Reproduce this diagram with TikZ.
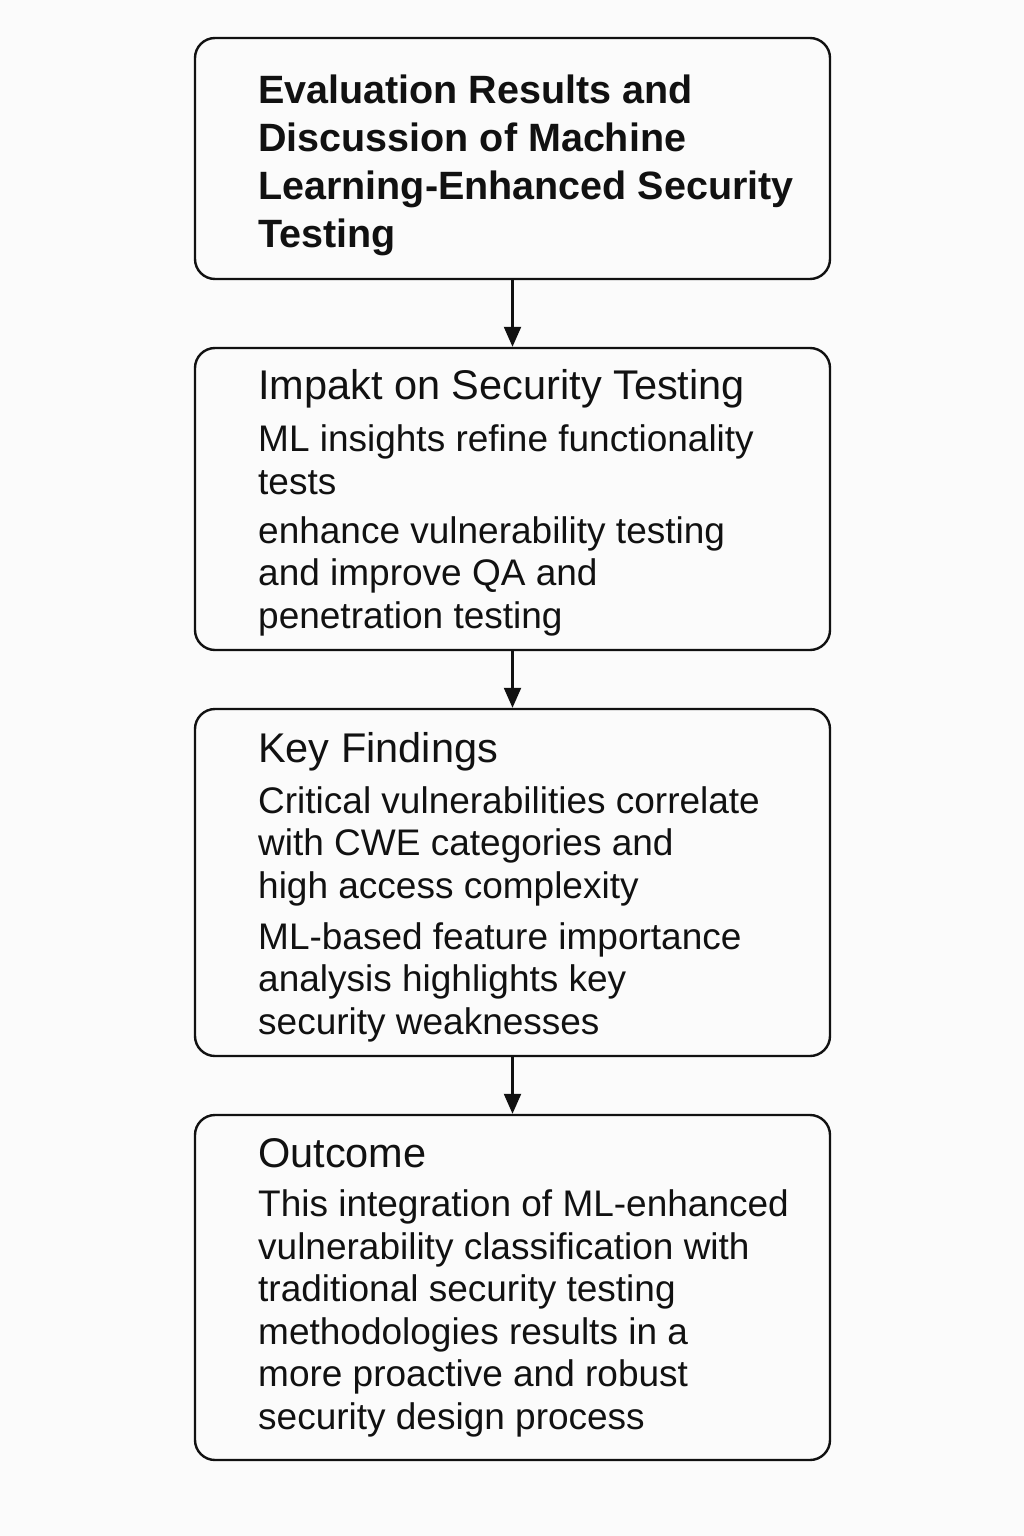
\documentclass[tikz,border=0pt]{standalone}
\usepackage{fontspec}
\setmainfont{Liberation Sans}
\usetikzlibrary{arrows.meta}
\definecolor{bg}{HTML}{FBFBFB}
\definecolor{ink}{HTML}{111111}
\begin{document}
\begin{tikzpicture}[x=1pt,y=-1pt,>={Triangle[length=20pt,width=17pt]}]
      \tikzstyle{box}=[draw=ink,line width=2.4pt,rounded corners=20pt,minimum width=635pt,inner sep=0pt,fill=bg];
      \tikzstyle{txt}=[anchor=base west,align=left,inner sep=0pt,text=ink];
      \tikzstyle{title}=[font=\bfseries\fontsize{39.5}{48}\selectfont];
      \tikzstyle{head}=[font=\fontsize{41.5}{48}\selectfont];
      \tikzstyle{body}=[font=\fontsize{37}{42.5}\selectfont];
        \path[fill=bg] (0,0) rectangle (1024,1536);
        \useasboundingbox (0,0) rectangle (1024,1536);

        % boxes
        \node[box,minimum height=241pt] (eval) at (512.5,158.5) {};
        \node[box,minimum height=302pt] (impact) at (512.5,499) {};
        \node[box,minimum height=347pt] (find) at (512.5,882.5) {};
        \node[box,minimum height=345pt] (out) at (512.5,1287.5) {};

        % texts (placed at the baseline of their last line)
        \node[txt,title] (evalt) at (258,247) {Evaluation Results and\\Discussion of Machine\\Learning-Enhanced Security\\Testing};

        \node[txt,head] (impacth) at (258,399) {Impakt on Security Testing};
        \node[txt,body] (impacta) at (258,494) {ML insights refine functionality\\tests};
        \node[txt,body] (impactb) at (258,628) {enhance vulnerability testing\\and improve QA and\\penetration testing};

        \node[txt,head] (findh) at (258,762) {Key Findings};
        \node[txt,body] (finda) at (258,898) {Critical vulnerabilities correlate\\with CWE categories and\\high access complexity};
        \node[txt,body] (findb) at (258,1034) {ML-based feature importance\\analysis highlights key\\security weaknesses};

        \node[txt,head] (outh) at (258,1167) {Outcome};
        \node[txt,body] (outa) at (258,1429) {This integration of ML-enhanced\\vulnerability classification with\\traditional security testing\\methodologies results in a\\more proactive and robust\\security design process};

        % arrows
        \path[->,draw=ink,line width=2.2pt] (eval) -- (impact);
        \path[->,draw=ink,line width=2.2pt] (impact) -- (find);
        \path[->,draw=ink,line width=2.2pt] (find) -- (out);
\end{tikzpicture}
\end{document}
